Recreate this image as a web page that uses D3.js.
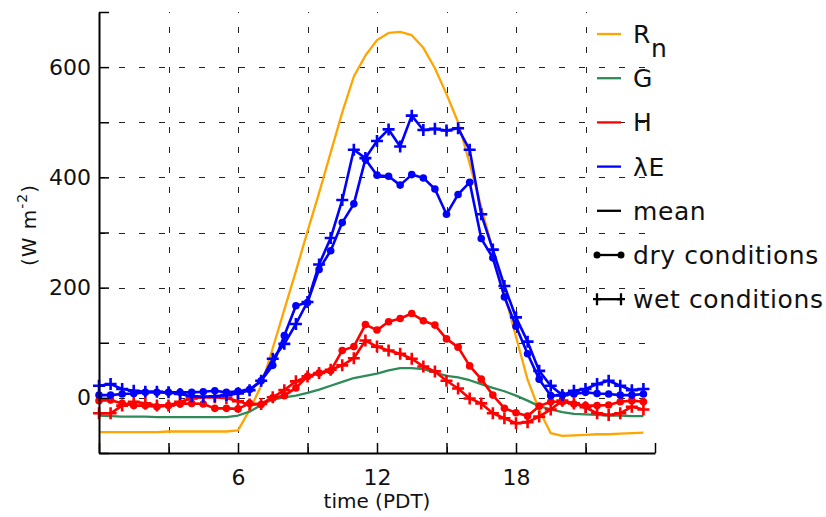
<!DOCTYPE html>
<html>
<head>
<meta charset="utf-8">
<script src="https://cdn.jsdelivr.net/npm/d3@7"></script>
<style>
  body { margin: 0; background: #fff; }
  svg { display: block; font-family: "DejaVu Sans", sans-serif; }
</style>
</head>
<body>
<div id="chart"></div>
<script>
(() => {
  "use strict";

  // half-hourly diurnal composites (PDT)
  const hours = [0,0.5,1,1.5,2,2.5,3,3.5,4,4.5,5,5.5,6,6.5,7,7.5,8,8.5,9,9.5,10,10.5,11,11.5,
                 12,12.5,13,13.5,14,14.5,15,15.5,16,16.5,17,17.5,18,18.5,19,19.5,20,20.5,21,21.5,22,22.5,23,23.5];

  const rn = [-62,-62,-62,-62,-62,-62,-61,-61,-61,-61,-61,-61,-59,-22,22,90,160,230,302,372,445,518,583,621,
              649,662,664,658,635,598,551,500,425,346,268,189,111,33,-22,-64,-69,-68,-67,-66,-66,-65,-64,-63];
  const gFlux = [-32,-33,-34,-34,-34,-35,-35,-35,-35,-35,-35,-35,-32,-25,-13,-3,1,4,9,15,22,29,36,40,
                 44,50,54,54,52,46,40,37,32,25,18,12,4,-5,-15,-21,-26,-29,-30,-31,-32,-32,-33,-33];
  const hDry = [-5,-4,-10,-14,-14,-16,-14,-11,-10,-11,-19,-19,-20,-10,-12,0,4,18,39,45,49,86,93,133,
                123,138,144,153,140,132,107,92,58,34,5,-19,-27,-33,-15,-7,-7,-11,-14,-14,-13,-7,-5,-7];
  const hWet = [-28,-28,-14,-7,-10,-14,-14,-7,-1,1,1,0,-6,-12,-11,1,14,30,39,45,51,59,72,104,
                93,86,80,71,57,48,31,17,-1,-10,-28,-37,-46,-44,-34,-21,-5,-10,-17,-28,-31,-28,-16,-21];
  const leDry = [5,5,7,8,10,10,10,10,10,11,13,10,12,15,31,59,113,167,173,233,267,318,352,433,
                 404,402,386,405,399,379,333,369,391,289,254,183,130,80,34,4,5,7,10,8,7,5,5,7];
  const leWet = [22,25,16,13,11,11,10,7,3,2,3,5,8,14,31,71,98,134,174,242,290,359,450,435,
                 466,487,456,512,486,488,485,489,450,333,269,203,146,102,49,22,5,13,16,25,31,22,14,16];

  const xTicks = [0,3,6,9,12,15,18,21,24];
  const xLabels = [6,12,18];
  const yTicks = [-100,0,100,200,300,400,500,600,700];
  const yLabels = [0,200,400,600];
  const gridX = [3,6,9,12,15,18,21];
  const gridY = [0,100,200,300,400,500,600];

  const COLORS = { rn: "#FFA500", g: "#2E8B57", h: "#FF0000", le: "#0000FF" };

  const series = [
    { key: "rn",    values: rn,    color: COLORS.rn, marker: null },
    { key: "g",     values: gFlux, color: COLORS.g,  marker: null },
    { key: "hDry",  values: hDry,  color: COLORS.h,  marker: "dot" },
    { key: "hWet",  values: hWet,  color: COLORS.h,  marker: "plus" },
    { key: "leDry", values: leDry, color: COLORS.le, marker: "dot" },
    { key: "leWet", values: leWet, color: COLORS.le, marker: "plus" }
  ];

  const legendItems = [
    { label: "R", sub: "n", color: COLORS.rn, marker: null },
    { label: "G",  color: COLORS.g,  marker: null },
    { label: "H",  color: COLORS.h,  marker: null },
    { label: "λE", color: COLORS.le, marker: null },
    { label: "mean", color: "#000", marker: null },
    { label: "dry conditions", color: "#000", marker: "dot" },
    { label: "wet conditions", color: "#000", marker: "plus" }
  ];

  const width = 826, height = 517;
  const svg = d3.select("#chart").append("svg").attr("width", width).attr("height", height);

  const x = d3.scaleLinear().domain([0, 24]).range([99, 655]);
  const y = d3.scaleLinear().domain([-100, 700]).range([453, 12]);

  // grid
  const grid = svg.append("g").attr("stroke", "#222").attr("stroke-width", 1).attr("stroke-dasharray", "6,14");
  grid.selectAll("line.gx").data(gridX).join("line").attr("class", "gx")
    .attr("x1", d => Math.round(x(d)) + 0.5).attr("x2", d => Math.round(x(d)) + 0.5)
    .attr("y1", y(-100)).attr("y2", y(700));
  grid.selectAll("line.gy").data(gridY).join("line").attr("class", "gy")
    .attr("y1", d => Math.round(y(d)) + 0.5).attr("y2", d => Math.round(y(d)) + 0.5)
    .attr("x1", x(0)).attr("x2", x(24));

  // series
  const line = d3.line().x((d, i) => x(hours[i])).y(d => y(d));
  const plus = "M-6,0H6M0,-6V6";

  series.forEach(s => {
    const gS = svg.append("g").attr("class", "series " + s.key);
    gS.append("path")
      .attr("d", line(s.values))
      .attr("fill", "none")
      .attr("stroke", s.color)
      .attr("stroke-width", s.marker ? 2.6 : 2.3)
      .attr("stroke-linejoin", "round");
    if (s.marker === "dot") {
      gS.selectAll("circle").data(s.values).join("circle")
        .attr("cx", (d, i) => x(hours[i])).attr("cy", d => y(d))
        .attr("r", 3.8).attr("fill", s.color);
    } else if (s.marker === "plus") {
      gS.selectAll("path.m").data(s.values).join("path").attr("class", "m")
        .attr("d", plus)
        .attr("transform", (d, i) => `translate(${x(hours[i])},${y(d)})`)
        .attr("stroke", s.color).attr("stroke-width", 2.6).attr("fill", "none");
    }
  });

  // axes
  const xAxis = d3.axisBottom(x).tickValues(xTicks).tickSizeInner(-10).tickSizeOuter(0)
    .tickPadding(16).tickFormat(d => xLabels.includes(d) ? d : "");
  const yAxis = d3.axisLeft(y).tickValues(yTicks).tickSizeInner(-10).tickSizeOuter(0)
    .tickPadding(8).tickFormat(d => yLabels.includes(d) ? d : "");

  const gx = svg.append("g").attr("transform", `translate(0,${y(-100)})`).call(xAxis);
  const gy = svg.append("g").attr("transform", `translate(${x(0)},0)`).call(yAxis);
  [gx, gy].forEach(a => {
    a.attr("font-family", "DejaVu Sans, sans-serif").attr("font-size", 22);
    a.select(".domain").attr("stroke", "#000").attr("stroke-width", 2);
    a.selectAll(".tick line").attr("stroke", "#000").attr("stroke-width", 1.5);
    a.selectAll(".tick text").attr("fill", "#111");
  });

  svg.append("text")
    .attr("x", x(12)).attr("y", 508)
    .attr("text-anchor", "middle")
    .attr("font-size", 20).attr("fill", "#111")
    .text("time (PDT)");

  const yt = svg.append("text")
    .attr("transform", "translate(36,225) rotate(-90)")
    .attr("text-anchor", "middle")
    .attr("font-size", 20).attr("letter-spacing", 1).attr("fill", "#111");
  yt.append("tspan").text("(W m");
  yt.append("tspan").attr("font-size", 14).attr("dy", -9).text("-2");
  yt.append("tspan").attr("dy", 9).text(")");

  // legend
  const lg = svg.append("g").attr("font-size", 25).attr("fill", "#111");
  const ly0 = 34, ldy = 44.2, lx1 = 597, lx2 = 621, ltx = 633;
  legendItems.forEach((item, i) => {
    const cy = ly0 + i * ldy;
    lg.append("line").attr("x1", lx1).attr("x2", lx2).attr("y1", cy).attr("y2", cy)
      .attr("stroke", item.color).attr("stroke-width", 2.3);
    if (item.marker === "dot") {
      [lx1, lx2].forEach(px => lg.append("circle").attr("cx", px).attr("cy", cy).attr("r", 3.5).attr("fill", item.color));
    } else if (item.marker === "plus") {
      [lx1, lx2].forEach(px => lg.append("path").attr("d", "M-4,0H4M0,-6V6")
        .attr("transform", `translate(${px},${cy})`).attr("stroke", item.color).attr("stroke-width", 2.3));
    }
    const t = lg.append("text").attr("x", ltx).attr("y", cy + 9).attr("letter-spacing", 0.6);
    t.append("tspan").text(item.label);
    if (item.sub) t.append("tspan").attr("dy", 14).text(item.sub);
  });
})();
</script>
</body>
</html>
